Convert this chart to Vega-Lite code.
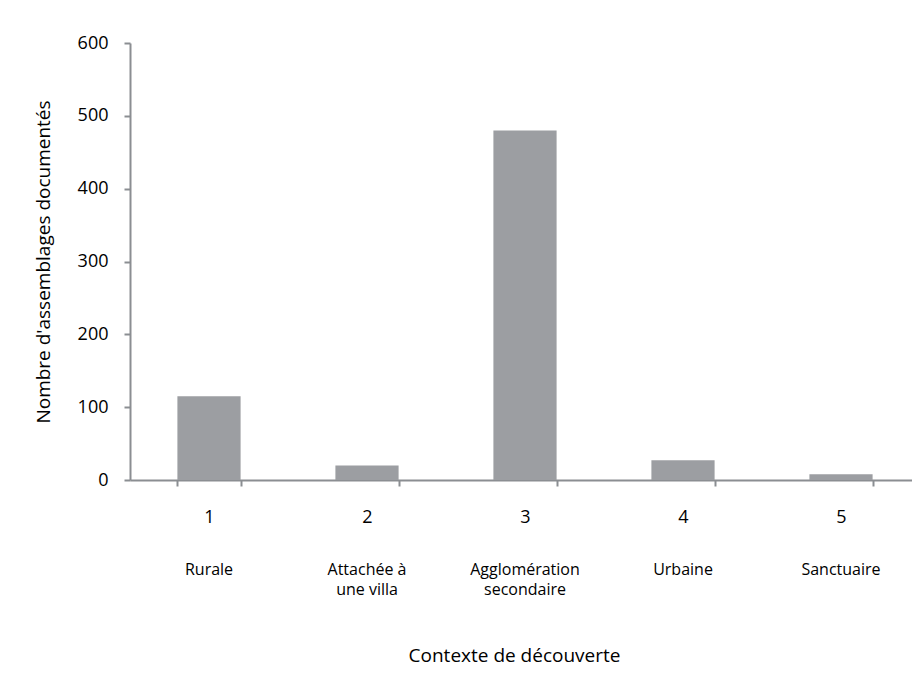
{
  "$schema": "https://vega.github.io/schema/vega-lite/v6.json",
  "autosize": {"type": "none"},
  "padding": {"left": 130, "top": 43, "right": 0, "bottom": 204},
  "width": 790,
  "height": 437,
  "background": "white",
  "config": {
    "view": {"stroke": null},
    "font": "Open Sans",
    "axis": {"domainColor": "#8b8e92", "tickColor": "#8b8e92", "domainWidth": 2, "tickWidth": 2, "labelColor": "#000000", "titleColor": "#000000", "grid": false, "labelFont": "Open Sans", "titleFont": "Open Sans", "titleFontWeight": "normal"}
  },
  "data": {
    "values": [
      {"numero": 1, "contexte": "Rurale", "nombre": 115},
      {"numero": 2, "contexte": "Attachée à une villa", "nombre": 20},
      {"numero": 3, "contexte": "Agglomération secondaire", "nombre": 480},
      {"numero": 4, "contexte": "Urbaine", "nombre": 27},
      {"numero": 5, "contexte": "Sanctuaire", "nombre": 8}
    ]
  },
  "layer": [
    {
      "mark": {"type": "bar", "color": "#9c9ea2"},
      "encoding": {
        "x": {
          "field": "numero", "type": "ordinal",
          "scale": {"paddingInner": 0.6, "paddingOuter": 0.3},
          "axis": {"orient": "bottom", "title": null, "labelAngle": 0, "tickBand": "extent", "tickSize": 6, "labelFontSize": 18, "labelPadding": 22}
        },
        "y": {
          "field": "nombre", "type": "quantitative",
          "scale": {"domain": [0, 600], "nice": false},
          "axis": {"title": "Nombre d'assemblages documentés", "values": [0, 100, 200, 300, 400, 500, 600], "tickSize": 6, "labelFontSize": 18, "labelPadding": 16, "titleFontSize": 19, "titlePadding": 24}
        }
      }
    },
    {
      "mark": {"type": "bar", "opacity": 0},
      "encoding": {
        "x": {
          "field": "contexte", "type": "nominal",
          "sort": {"field": "numero"},
          "scale": {"paddingInner": 0.6, "paddingOuter": 0.3},
          "axis": {"orient": "bottom", "offset": 0, "title": "Contexte de découverte", "domain": false, "ticks": false, "labelAngle": 0, "labelFontSize": 16, "labelPadding": 81, "labelLineHeight": 20, "labelExpr": "datum.value == 'Attachée à une villa' ? ['Attachée à', 'une villa'] : datum.value == 'Agglomération secondaire' ? ['Agglomération', 'secondaire'] : datum.value", "labelBaseline": "top", "titleFontSize": 19, "titlePadding": 49, "titleX": 384}
        },
        "y": {"field": "nombre", "type": "quantitative"}
      }
    }
  ],
  "resolve": {"scale": {"x": "independent"}}
}
